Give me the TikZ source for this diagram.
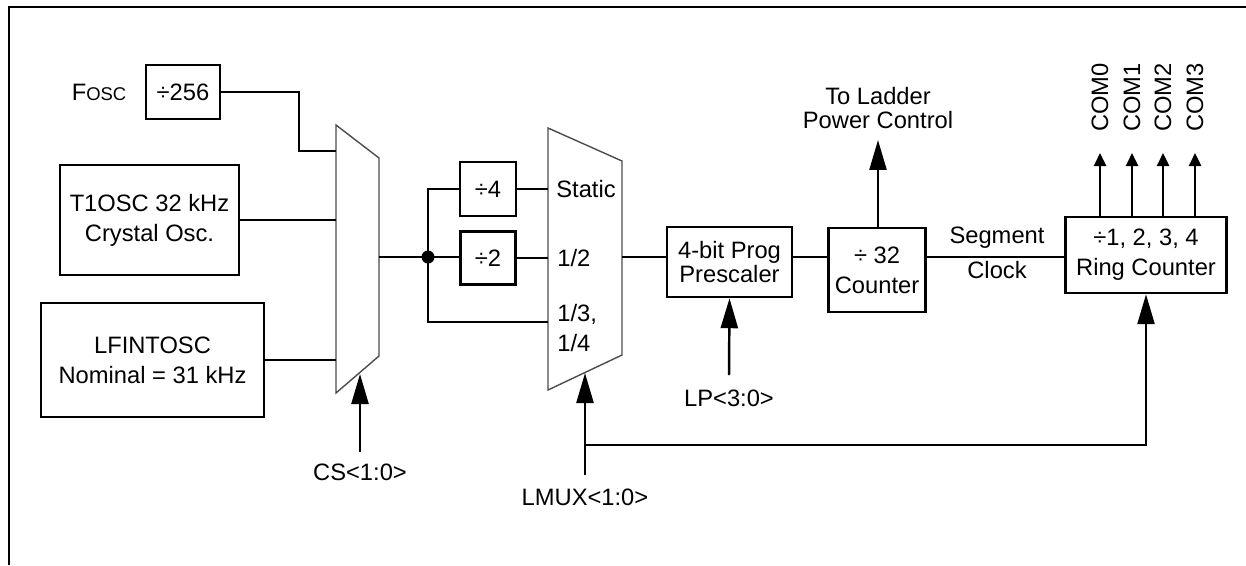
\documentclass[tikz,border=0pt]{standalone}
\usepackage{fontspec}
\setmainfont{Liberation Sans}
\usepackage{tikz}
\usetikzlibrary{arrows.meta,positioning,calc}

\begin{document}
\begin{tikzpicture}[
  x=0.02cm, y=-0.02cm,
  font=\fontsize{13.5}{17}\selectfont,
  box/.style={draw, line width=1.4pt, inner sep=0pt, align=center},
  wire/.style={line width=1.4pt},
  mux/.style={draw=black!70, line width=0.8pt},
  arr/.style={wire, -{Triangle[length=0.6cm, width=0.34cm]}},
  sarr/.style={wire, -{Triangle[length=0.26cm, width=0.24cm]}},
  lbl/.style={inner sep=0pt, align=center}]
\useasboundingbox (0,0) rectangle (1246,565);
\draw[line width=1.6pt] (9,565) -- (9,7) -- (1246,7);

% clock sources
\node[lbl] (fosc) at (99,92) {F{\fontsize{10.5}{12}\selectfont OSC}};
\node[box, minimum width=1.48cm, minimum height=1.08cm] (d256) at (183,92) {÷256};
\node[box, minimum width=3.58cm, minimum height=2.2cm] (t1osc) at (149.5,220) {T1OSC 32 kHz\\Crystal Osc.};
\node[box, minimum width=4.46cm, minimum height=2.28cm] (lfint) at (152.5,360) {LFINTOSC\\Nominal = 31 kHz};

% clock select mux
\draw[mux] (336,125) -- (379,158) -- (379,356) -- (336,393) -- cycle;
\coordinate (m1a) at (336,151);
\coordinate (m1b) at (336,221);
\coordinate (m1c) at (336,361);
\coordinate (m1o) at (379,257);
\coordinate (m1s) at (360,374);
\node[lbl] (cs) at (360,472) {CS<1:0>};
\coordinate (csb) at (360,452);

% dividers and LMUX mux
\node[box, minimum width=1.12cm, minimum height=1.08cm] (d4) at (488,189) {÷4};
\node[box, minimum width=1.1cm, minimum height=1.06cm] (d2) at (488,258) {÷2};
\coordinate (br) at (428,257);
\draw[mux] (548,128) -- (622,161) -- (622,355) -- (548,390) -- cycle;
\coordinate (m2a) at (548,189);
\coordinate (m2c) at (548,322);
\coordinate (m2o) at (622,257);
\coordinate (m2s) at (585,373);
\node[lbl, anchor=west] (sstat) at (556,189) {Static};
\node[lbl, anchor=west] (shalf) at (557,258) {1/2};
\node[lbl, anchor=west, align=left] (sthird) at (557,328) {1/3,\\1/4};
\node[lbl] (lmux) at (585,497) {LMUX<1:0>};
\coordinate (lmb) at (585,475);
\coordinate (fb) at (585,445);

% prescaler and counters
\node[box, minimum width=2.5cm, minimum height=1.4cm] (presc) at (729.5,262) {4-bit Prog\\[-3pt]Prescaler};
\node[lbl] (lp) at (729,398) {LP<3:0>};
\coordinate (lpb) at (729,375);
\node[box, minimum width=1.94cm, minimum height=1.68cm] (cnt) at (877,270) {÷ 32\\Counter};
\node[lbl] (ladder) at (878,108) {To Ladder\\[-3pt]Power Control};
\coordinate (ladtip) at (878,140);
\node[lbl] (seg) at (997,238) {Segment};
\node[lbl] (clk) at (997,270) {Clock};
\node[box, minimum width=3.22cm, minimum height=1.52cm] (ring) at (1146,255) {÷1, 2, 3, 4\\Ring Counter};

% wiring
\draw[wire] (d256.east) -- ++(78,0) |- (m1a);
\draw[wire] (t1osc.east) -- (t1osc.east -| m1b);
\draw[wire] (lfint.east) -- (lfint.east -| m1c);
\draw[wire] (m1o) -- (m1o -| d2.west);
\fill (br) circle (0.13cm);
\draw[wire] (d4.west) -| (br) |- (m2c);
\draw[wire] (d4.east) -- (d4.east -| m2a);
\draw[wire] (d2.east) -- (d2.east -| m2a);
\draw[wire] (m2o) -- (m2o -| presc.west);
\draw[wire] (presc.east |- m2o) -- (cnt.west |- m2o);
\draw[wire] (cnt.east |- m2o) -- (ring.west |- m2o);
\draw[arr] (csb) -- (m1s);
\draw[arr] (lmb) -- (m2s);
\draw[arr] (fb) -| (ring.south);
\draw[arr] (lpb) -- (presc.south);
\draw[arr] (cnt.north -| ladtip) -- (ladtip);
\foreach \i/\x in {0/1100,1/1132,2/1163,3/1195} {
  \coordinate (c\i) at (\x,153);
  \draw[sarr] (ring.north -| c\i) -- (c\i);
  \node[lbl, rotate=90, anchor=west] (com\i) at (\x,132) {COM\i};
}
\end{tikzpicture}
\end{document}
